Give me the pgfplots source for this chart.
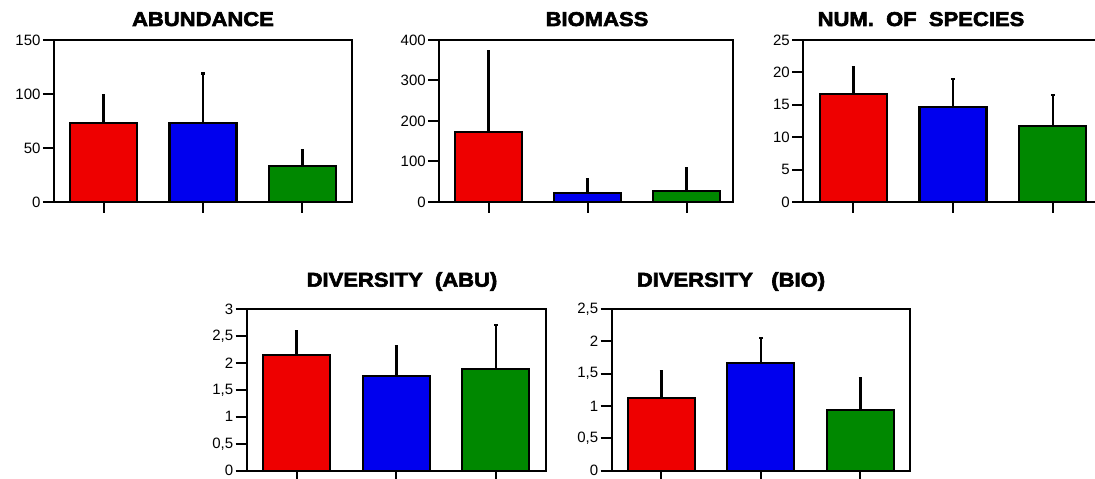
\documentclass[border=0pt]{standalone}
\usepackage{fontspec}
\setmainfont{Liberation Sans}
\newfontfamily\titlefont{Liberation Sans}[BoldFeatures={FakeBold=3,FakeStretch=1.1}]
\usepackage{pgfplots}
\pgfplotsset{compat=1.18}
\definecolor{bred}{RGB}{238,0,0}
\definecolor{bblue}{RGB}{0,0,238}
\definecolor{bgreen}{RGB}{0,136,0}
\pgfplotsset{
  panel/.style={
    scale only axis, height=162pt,
    xmin=-0.5, xmax=2.5, ymin=0,
    axis line style={line width=2.2pt, black},
    xtick={0,1,2}, xticklabels={},
    xtick pos=bottom, ytick pos=left,
    tick align=outside,
    major tick length=11pt,
    every tick/.style={line width=2pt, black},
    tick label style={font=\fontsize{15}{15}\selectfont},
    /pgf/number format/assume math mode=true,
    /pgf/number format/use comma,
    /pgf/number format/1000 sep={},
    yticklabel style={xshift=1pt},
  },
  bb/.style={ybar, bar width=67pt, bar shift=0pt, draw=black, line width=2.2pt, fill=#1,
    error bars/.cd, y dir=plus, y explicit,
    error bar style={line width=2.6pt, black},
    error mark options={rotate=90, mark size=1.7pt, line width=2.6pt, black}},
}
\begin{document}
\begin{tikzpicture}
\useasboundingbox (0,0) rectangle (1095pt,479pt);
% Panel 1
\begin{axis}[panel, at={(54pt,277pt)}, anchor=south west, width=298pt, ymax=150, ytick={0,50,100,150}]
\addplot[bb=bred] coordinates {(0,73) +- (0,25.5)};
\addplot[bb=bblue] coordinates {(1,73) +- (0,46)};
\addplot[bb=bgreen] coordinates {(2,33) +- (0,14.5)};
\end{axis}
\node[anchor=base] at (203pt,453pt) {\titlefont\bfseries\fontsize{20}{20}\selectfont ABUNDANCE};
% Panel 2
\begin{axis}[panel, at={(439.3pt,277pt)}, anchor=south west, width=293.7pt, xmax=2.47, ymax=400, ytick={0,100,200,300,400}]
\addplot[bb=bred] coordinates {(0,172) +- (0,201)};
\addplot[bb=bblue] coordinates {(1,21.5) +- (0,35.5)};
\addplot[bb=bgreen] coordinates {(2,28) +- (0,54)};
\end{axis}
\node[anchor=base] at (597pt,453pt) {\titlefont\bfseries\fontsize{20}{20}\selectfont BIOMASS};
% Panel 3
\begin{axis}[panel, at={(803.3pt,277pt)}, anchor=south west, width=299.4pt, ymax=25, ytick={0,5,10,15,20,25}]
\addplot[bb=bred] coordinates {(0,16.7) +- (0,4.1)};
\addplot[bb=bblue] coordinates {(1,14.7) +- (0,4.3)};
\addplot[bb=bgreen] coordinates {(2,11.7) +- (0,4.8)};
\end{axis}
\node[anchor=base] at (921pt,453pt) {\titlefont\bfseries\fontsize{20}{20}\selectfont NUM.\ \ OF\ \ SPECIES};
% Panel 4
\begin{axis}[panel, at={(246.7pt,8.3pt)}, anchor=south west, width=299pt, height=161.7pt, ymax=3, ytick={0,0.5,1,1.5,2,2.5,3}]
\addplot[bb=bred] coordinates {(0,2.15) +- (0,0.44)};
\addplot[bb=bblue] coordinates {(1,1.76) +- (0,0.55)};
\addplot[bb=bgreen] coordinates {(2,1.89) +- (0,0.81)};
\end{axis}
\node[anchor=base] at (402pt,192.3pt) {\titlefont\bfseries\fontsize{20}{20}\selectfont DIVERSITY\ \ (ABU)};
% Panel 5
\begin{axis}[panel, at={(611.7pt,8.3pt)}, anchor=south west, width=298.3pt, height=161.7pt, ymax=2.5, ytick={0,0.5,1,1.5,2,2.5}]
\addplot[bb=bred] coordinates {(0,1.13) +- (0,0.41)};
\addplot[bb=bblue] coordinates {(1,1.66) +- (0,0.39)};
\addplot[bb=bgreen] coordinates {(2,0.94) +- (0,0.49)};
\end{axis}
\node[anchor=base] at (731pt,192.3pt) {\titlefont\bfseries\fontsize{20}{20}\selectfont DIVERSITY\ \ \ (BIO)};
\end{tikzpicture}
\end{document}
